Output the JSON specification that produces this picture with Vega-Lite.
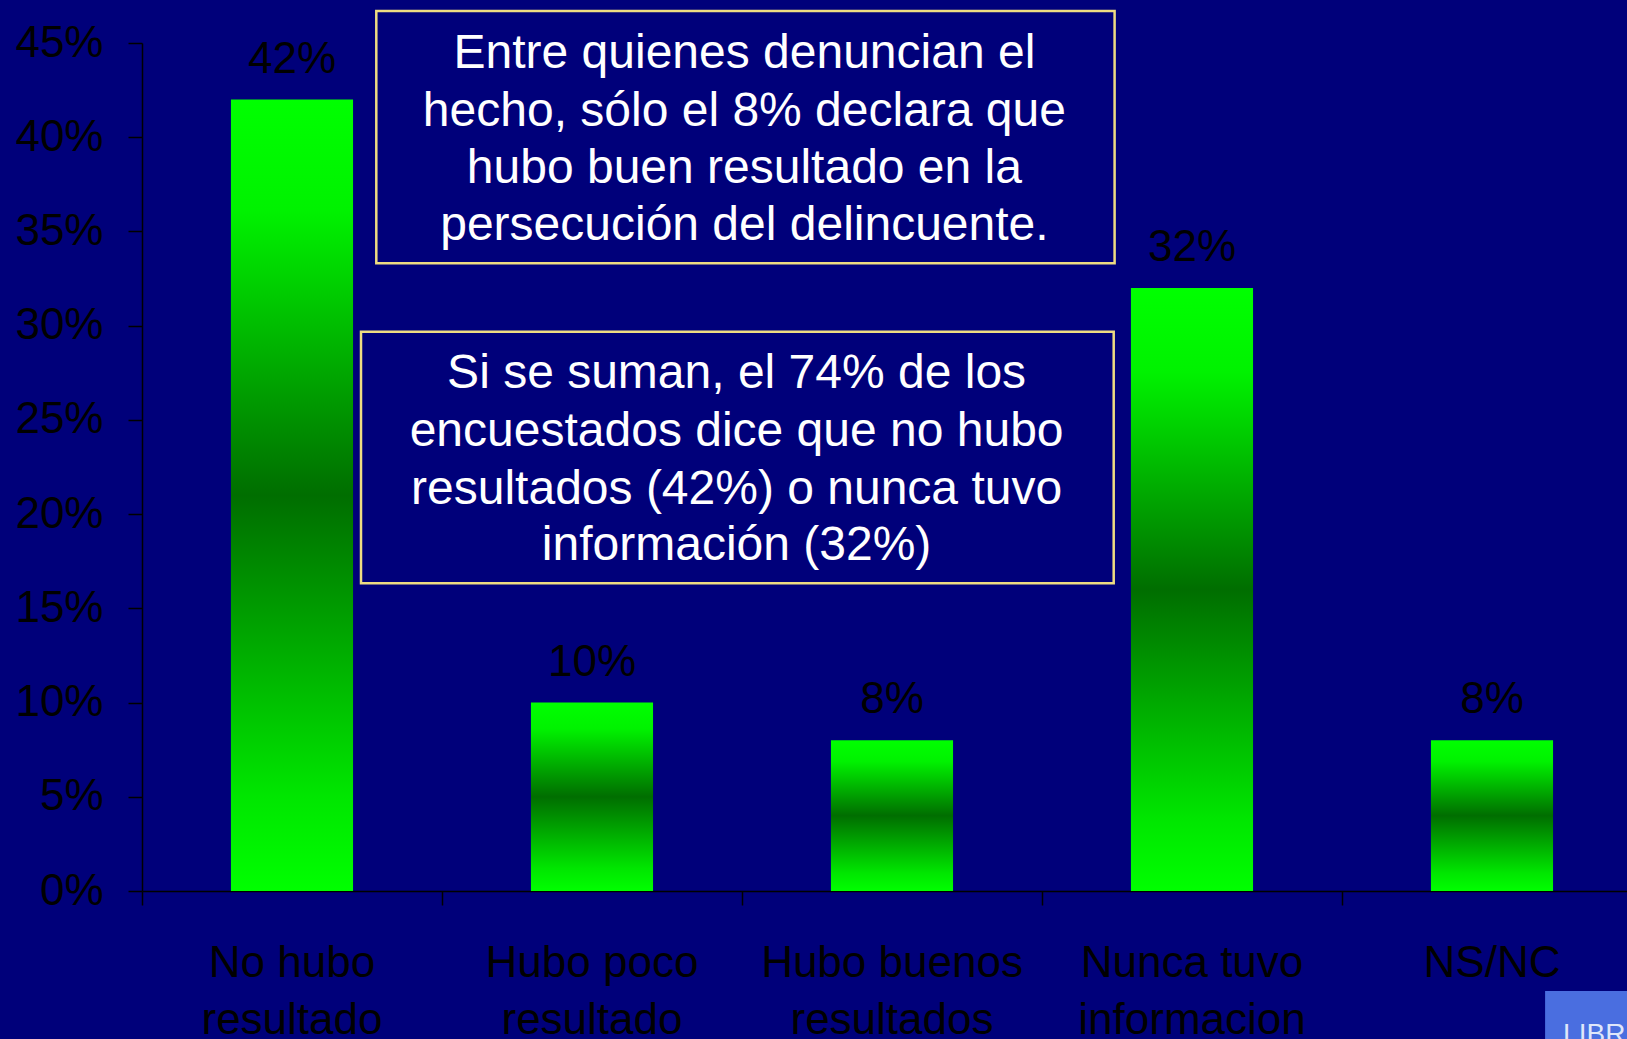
{
  "$schema": "https://vega.github.io/schema/vega-lite/v6.json",
  "width": 1485,
  "height": 848,
  "autosize": {"type": "none"},
  "padding": {"left": 142, "top": 43, "right": 0, "bottom": 148},
  "background": "#00007a",
  "config": {"view": {"stroke": null}, "font": "Liberation Sans"},
  "datasets": {
    "barras": [
      {"categoria": "No hubo\nresultado", "valor": 0.42},
      {"categoria": "Hubo poco\nresultado", "valor": 0.10},
      {"categoria": "Hubo buenos\nresultados", "valor": 0.08},
      {"categoria": "Nunca tuvo\ninformacion", "valor": 0.32},
      {"categoria": "NS/NC", "valor": 0.08}
    ],
    "cuadros": [
      {"x1": 0.781, "x2": 3.242, "y1": 0.467, "y2": 0.3331},
      {"x1": 0.730, "x2": 3.239, "y1": 0.2968, "y2": 0.1633}
    ],
    "lineas": [
      {"x": 2.008, "y": 0.4366, "linea": "Entre quienes denuncian el"},
      {"x": 2.008, "y": 0.4059, "linea": "hecho, sólo el 8% declara que"},
      {"x": 2.008, "y": 0.3756, "linea": "hubo buen resultado en la"},
      {"x": 2.008, "y": 0.3455, "linea": "persecución del delincuente."},
      {"x": 1.982, "y": 0.2668, "linea": "Si se suman, el 74% de los"},
      {"x": 1.982, "y": 0.2359, "linea": "encuestados dice que no hubo"},
      {"x": 1.982, "y": 0.2056, "linea": "resultados (42%) o nunca tuvo"},
      {"x": 1.982, "y": 0.1757, "linea": "información (32%)"}
    ],
    "boton": [
      {"x1": 4.677, "x2": 5.0, "y1": -0.0531, "y2": -0.0817, "tx": 4.737, "ty": -0.0805, "texto": "LIBRE"}
    ]
  },
  "layer": [
    {
      "data": {"name": "barras"},
      "encoding": {
        "x": {
          "field": "categoria", "type": "nominal", "sort": null,
          "scale": {"range": [0, 1500], "paddingInner": 0, "paddingOuter": 0},
          "axis": {
            "title": null, "labelAngle": 0, "labelExpr": "split(datum.label, '\\n')",
            "labelFontSize": 44, "labelColor": "#000000", "labelBaseline": "alphabetic",
            "labelLineHeight": 57, "labelPadding": 71, "tickSize": 14, "tickColor": "#000000",
            "tickWidth": 1.5, "domainColor": "#000000", "domainWidth": 1.5, "bandPosition": 0,
            "labelLimit": 0, "grid": false, "labelOverlap": false
          }
        },
        "y": {
          "field": "valor", "type": "quantitative",
          "scale": {"domain": [0, 0.45], "nice": false},
          "axis": {
            "title": null, "values": [0, 0.05, 0.1, 0.15, 0.2, 0.25, 0.3, 0.35, 0.4, 0.45],
            "format": ".0%", "labelFontSize": 44, "labelColor": "#000000", "labelPadding": 25,
            "tickSize": 14, "tickColor": "#000000", "tickWidth": 1.5, "domainColor": "#000000",
            "domainWidth": 1.5, "grid": false, "labelBaseline": "middle", "labelFlush": false,
            "labelOverlap": false
          }
        }
      },
      "layer": [
        {
          "mark": {
            "type": "bar",
            "width": {"band": 0.407},
            "fill": {
              "gradient": "linear", "x1": 0, "y1": 0, "x2": 0, "y2": 1,
              "stops": [
                {"offset": 0, "color": "#00ff00"},
                {"offset": 0.14, "color": "#00f200"},
                {"offset": 0.5, "color": "#006e00"},
                {"offset": 0.88, "color": "#00e600"},
                {"offset": 1, "color": "#00ff00"}
              ]
            }
          }
        },
        {
          "mark": {"type": "text", "baseline": "alphabetic", "dy": -27, "fontSize": 44, "color": "#000000"},
          "encoding": {"text": {"field": "valor", "format": ".0%"}}
        }
      ]
    },
    {
      "data": {"name": "cuadros"},
      "mark": {"type": "rect", "fill": "transparent", "stroke": "#eedc82", "strokeWidth": 2.5},
      "encoding": {
        "x": {"field": "x1", "type": "quantitative", "scale": {"domain": [0, 5], "range": [0, 1500]}, "axis": null},
        "x2": {"field": "x2"},
        "y": {"field": "y1", "type": "quantitative", "scale": {"domain": [0, 0.45], "nice": false}, "axis": null},
        "y2": {"field": "y2"}
      }
    },
    {
      "data": {"name": "lineas"},
      "mark": {"type": "text", "align": "center", "baseline": "alphabetic", "fontSize": 48, "color": "#ffffff"},
      "encoding": {
        "x": {"field": "x", "type": "quantitative", "scale": {"domain": [0, 5], "range": [0, 1500]}, "axis": null},
        "y": {"field": "y", "type": "quantitative", "scale": {"domain": [0, 0.45], "nice": false}, "axis": null},
        "text": {"field": "linea"}
      }
    },
    {
      "data": {"name": "boton"},
      "layer": [
        {
          "mark": {"type": "rect", "fill": "#4a6ee0"},
          "encoding": {
            "x": {"field": "x1", "type": "quantitative", "scale": {"domain": [0, 5], "range": [0, 1500]}, "axis": null},
            "x2": {"field": "x2"},
            "y": {"field": "y1", "type": "quantitative", "scale": {"domain": [0, 0.45], "nice": false}, "axis": null},
            "y2": {"field": "y2"}
          }
        },
        {
          "mark": {"type": "text", "align": "left", "baseline": "alphabetic", "fontSize": 28, "color": "#dfe6fa"},
          "encoding": {
            "x": {"field": "tx", "type": "quantitative", "scale": {"domain": [0, 5], "range": [0, 1500]}, "axis": null},
            "y": {"field": "ty", "type": "quantitative", "scale": {"domain": [0, 0.45], "nice": false}, "axis": null},
            "text": {"field": "texto"}
          }
        }
      ]
    }
  ],
  "resolve": {"scale": {"x": "independent", "y": "independent"}, "axis": {"x": "independent", "y": "independent"}}
}
